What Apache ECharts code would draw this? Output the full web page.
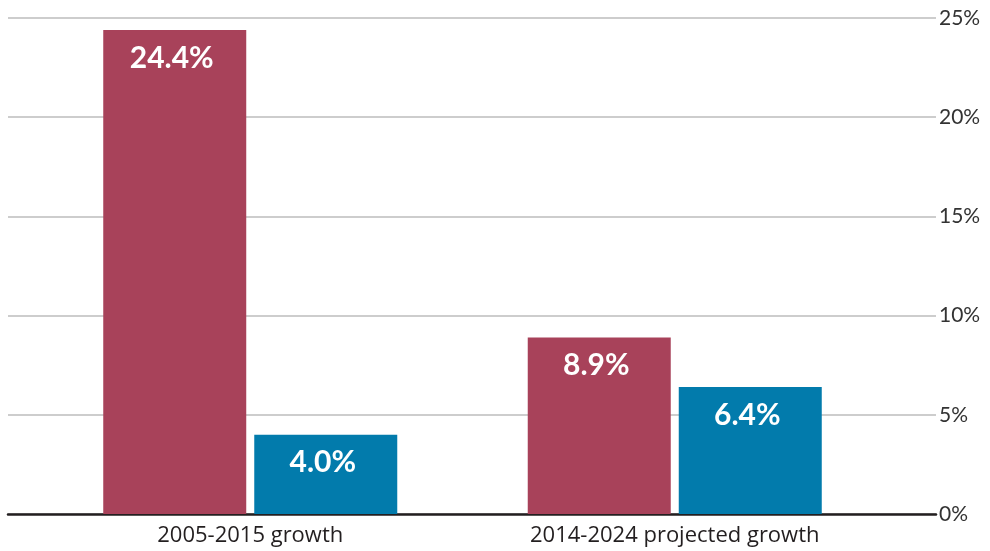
<!DOCTYPE html>
<html>
<head>
<meta charset="utf-8">
<script src="https://cdn.jsdelivr.net/npm/echarts@6/dist/echarts.min.js"></script>
<style>
  html, body { margin: 0; padding: 0; background: #fff; }
  #chart { width: 990px; height: 551px; }
</style>
</head>
<body>
<div id="chart"></div>
<script>
// chart data
var categories = ['2005-2015 growth', '2014-2024 projected growth'];
var redValues = [24.4, 8.9];
var blueValues = [4.0, 6.4];
var yTicks = [0, 5, 10, 15, 20, 25];

var FONT = 'Lato, "Open Sans", sans-serif';

var chart = echarts.init(document.getElementById('chart'), null, { renderer: 'canvas' });

var valueLabel = {
    show: true,
    position: 'insideTop',
    distance: 13,
    offset: [-3, 0],
    color: '#fff',
    fontFamily: FONT,
    fontWeight: 'bold',
    fontSize: 30,
    formatter: function (p) { return p.value.toFixed(1) + '%'; }
};

var option = {
    backgroundColor: '#fff',
    animation: false,
    grid: [
        // wide grid: gridlines, right-hand scale, baseline
        { left: 8, right: 54, top: 18, bottom: 37 },
        // narrower grid holding the bars
        { left: 38, right: 103, top: 18, bottom: 37 }
    ],
    xAxis: [
        {
            gridIndex: 0,
            type: 'category',
            data: categories,
            axisLine: { show: true, lineStyle: { color: '#231f20', width: 2.5 } },
            axisTick: { show: false },
            axisLabel: { show: false },
            splitLine: { show: false }
        },
        {
            gridIndex: 1,
            type: 'category',
            data: categories,
            axisLine: { show: false },
            axisTick: { show: false },
            axisLabel: {
                margin: 11,
                color: '#231f20',
                fontFamily: '"Open Sans", sans-serif',
                fontSize: 22
            }
        }
    ],
    yAxis: [
        {
            gridIndex: 0,
            type: 'value',
            position: 'right',
            min: yTicks[0],
            max: yTicks[yTicks.length - 1],
            interval: 5,
            axisLine: { show: false },
            axisTick: { show: false },
            axisLabel: {
                margin: 3,
                color: '#333',
                fontFamily: FONT,
                fontSize: 21,
                formatter: '{value}%'
            },
            splitLine: { show: true, lineStyle: { color: '#bdbdbd', width: 1.5 } }
        },
        {
            gridIndex: 1,
            type: 'value',
            min: yTicks[0],
            max: yTicks[yTicks.length - 1],
            interval: 5,
            show: false,
            splitLine: { show: false }
        }
    ],
    series: [
        {
            name: 'Series A',
            type: 'bar',
            xAxisIndex: 1,
            yAxisIndex: 1,
            data: redValues,
            barWidth: 143,
            barGap: '5.6%',
            itemStyle: { color: '#a8425a' },
            label: valueLabel
        },
        {
            name: 'Series B',
            type: 'bar',
            xAxisIndex: 1,
            yAxisIndex: 1,
            data: blueValues,
            barWidth: 143,
            barGap: '5.6%',
            itemStyle: { color: '#027bac' },
            label: valueLabel
        }
    ]
};

chart.setOption(option);
</script>
</body>
</html>
